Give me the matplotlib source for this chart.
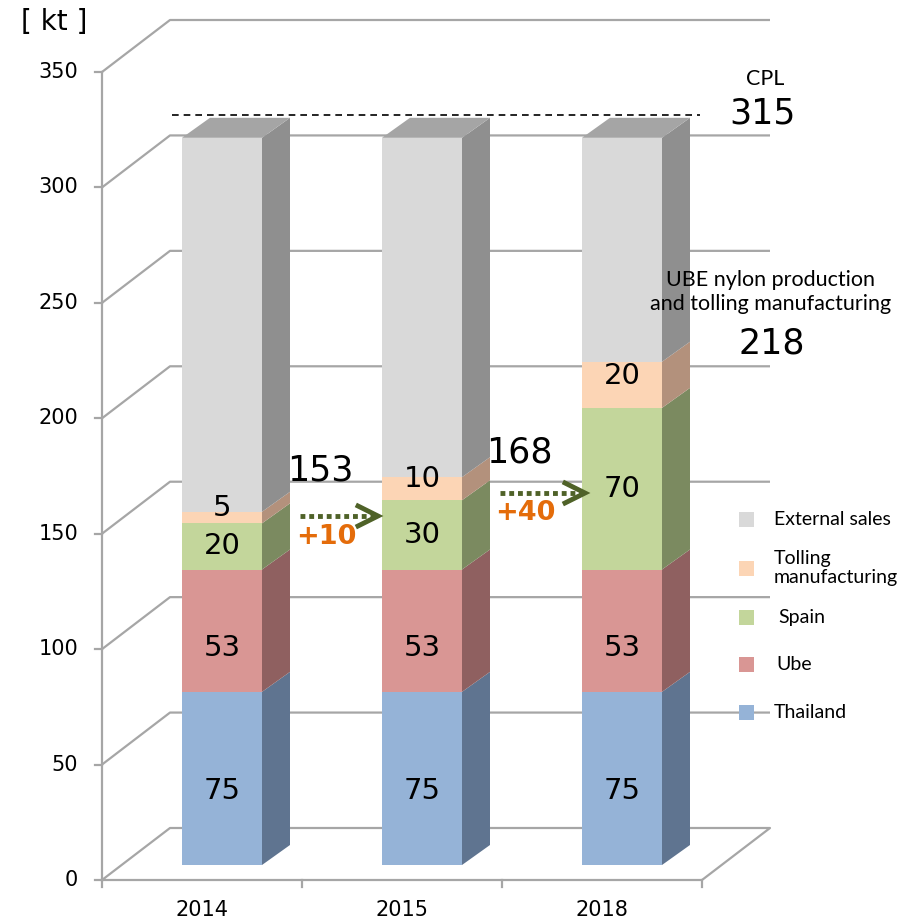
import numpy as np
import matplotlib
matplotlib.use("Agg")
import matplotlib.pyplot as plt
from matplotlib.patches import Polygon, Rectangle

# data (kt)
years = ["2014", "2015", "2018"]
thailand = [75, 75, 75]
ube = [53, 53, 53]
spain = [20, 30, 70]
tolling = [5, 10, 20]
external = [162, 147, 97]
series_names = ["Thailand", "Ube", "Spain", "Tolling\nmanufacturing", "External sales"]
cpl_total = 315
ube_totals = [153, 168, 218]
increases = ["+10", "+40"]
y_ticks = [0, 50, 100, 150, 200, 250, 300, 350]

front = ["#95b3d7", "#d99694", "#c3d69b", "#fcd5b5", "#d9d9d9"]
side = ["#5f7490", "#8f6060", "#7b8a60", "#b3917c", "#8f8f8f"]
top_col = "#a5a5a5"
grid_col = "#a6a6a6"

# layout helpers: pixel -> data
PX_KT = 808 / 350.0
def X(px):
    return (px - 202) / 200.0
def V(py):
    return (880 - py) / PX_KT

W_DX, W_DY = 68 / 200.0, 52 / PX_KT       # wall depth
B_OX, B_OY = 20 / 200.0, 15 / PX_KT        # bar front-plane offset
B_DX, B_DY = 28 / 200.0, 20 / PX_KT        # bar depth
BAR_W = 0.4
label_shift = [-5.5, -7.5, 0, 4, 0]        # kt, nudges of the value labels

fig = plt.figure(figsize=(9.04, 9.22), dpi=100)
ax = fig.add_axes([0, 0, 1, 1])
ax.set_xlim(X(0), X(904))
ax.set_ylim(V(922), V(0))
ax.axis("off")

# back wall gridlines with slanted side wall
x_left, x_right = -0.5, 2.5
for t in y_ticks[1:]:
    ax.plot([x_left, x_left + W_DX, x_right + W_DX], [t, t + W_DY, t + W_DY],
            color=grid_col, lw=1.6, zorder=1, solid_capstyle="butt")
# floor
ax.plot([x_left, x_left + W_DX, x_right + W_DX, x_right, x_left],
        [0, W_DY, W_DY, 0, 0], color=grid_col, lw=1.6, zorder=1)
# value axis
ax.plot([x_left, x_left], [0, 350], color=grid_col, lw=1.6, zorder=1)
for t in y_ticks:
    ax.plot([x_left - 0.035, x_left], [t, t], color=grid_col, lw=1.6, zorder=1)
    ax.text(X(78), t, str(t), ha="right", va="center", fontsize=15, color="black")
for k in range(4):
    ax.plot([x_left + k, x_left + k], [0, -3], color=grid_col, lw=1.6, zorder=1)
for i, yr in enumerate(years):
    ax.text(i, V(910), yr, ha="center", va="center", fontsize=15)
ax.text(X(54), V(22), "[ kt ]", ha="center", va="center", fontsize=20)

# stacked pseudo-3D bars
stack = np.array([thailand, ube, spain, tolling, external], dtype=float)
bottoms = np.vstack([np.zeros(3), np.cumsum(stack, axis=0)[:-1]])
for i in range(len(years)):
    x0 = i + B_OX - BAR_W / 2
    x1 = x0 + BAR_W
    for s in range(stack.shape[0]):
        b = bottoms[s, i] + B_OY
        t = b + stack[s, i]
        ax.add_patch(Rectangle((x0, b), BAR_W, stack[s, i], facecolor=front[s],
                               edgecolor="none", zorder=3))
        ax.add_patch(Polygon([(x1, b), (x1 + B_DX, b + B_DY), (x1 + B_DX, t + B_DY), (x1, t)],
                             closed=True, facecolor=side[s], edgecolor="none", zorder=3))
        if s < 4:
            ax.text(i + B_OX, (b + t) / 2 + label_shift[s], f"{stack[s, i]:.0f}", ha="center",
                    va="center", fontsize=21, zorder=5)
    T = bottoms[-1, i] + stack[-1, i] + B_OY
    ax.add_patch(Polygon([(x0, T), (x0 + B_DX, T + B_DY), (x1 + B_DX, T + B_DY), (x1, T)],
                         closed=True, facecolor=top_col, edgecolor="none", zorder=3))

# CPL dashed line
cpl_y = cpl_total + B_OY + B_DY + 1
ax.plot([X(172), X(700)], [cpl_y, cpl_y], color="black", lw=1.2, ls=(0, (4, 3)), zorder=4)

tf = "Lato"
ax.text(X(765), V(79), "CPL", ha="center", va="center", fontsize=15.5, family=tf)
ax.text(X(763), V(113), str(cpl_total), ha="center", va="center", fontsize=25)
ax.text(X(771), V(292), "UBE nylon production\nand tolling manufacturing", ha="center",
        va="center", fontsize=15.5, family=tf, linespacing=1.25)
ax.text(X(772), V(343), str(ube_totals[2]), ha="center", va="center", fontsize=25)
ax.text(X(320), V(470), str(ube_totals[0]), ha="center", va="center", fontsize=25, zorder=6)
ax.text(X(519), V(452), str(ube_totals[1]), ha="center", va="center", fontsize=25, zorder=6)

# growth arrows
arrow_col = "#4f6228"
for (xs, xe, py), lab, (lx, ly) in zip([(300, 378, 516), (500, 585, 493)], increases,
                                        [(326, 537), (525, 513)]):
    ax.plot([X(xs), X(xe - 4)], [V(py), V(py)], color=arrow_col, lw=3.5,
            ls=(0, (1, 0.8)), zorder=6)
    ax.plot([X(xe - 20), X(xe), X(xe - 20)], [V(py - 10), V(py), V(py + 10)],
            color=arrow_col, lw=3.5, zorder=6, solid_joinstyle="miter")
    ax.text(X(lx), V(ly), lab, ha="center", va="center", fontsize=19.5,
            fontweight="bold", color="#e46c0a", zorder=6)

# legend
leg_y = [712, 664, 617, 568, 519]
leg_x = [774, 776, 778, 774, 774]
for s in range(5):
    ax.add_patch(Rectangle((X(739), V(leg_y[s] + 7.5)), 15 / 200.0, 15 / PX_KT,
                           facecolor=front[s], edgecolor="none", zorder=3))
    ax.text(X(leg_x[s]), V(leg_y[s]), series_names[s], ha="left", va="center",
            fontsize=14, family=tf, linespacing=1.1)

fig.savefig("out.png", dpi=100)
